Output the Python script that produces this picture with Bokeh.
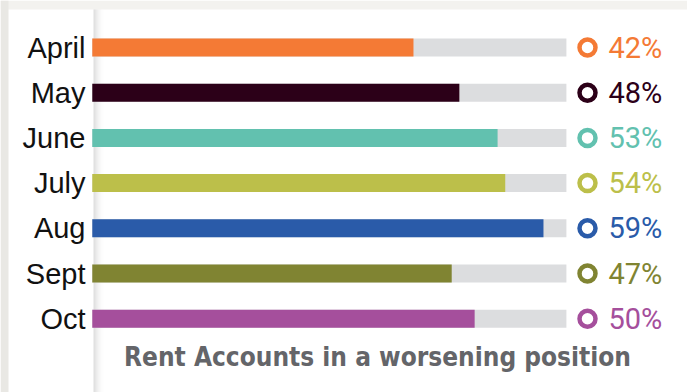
from bokeh.plotting import figure
from bokeh.models import Range1d, ColumnDataSource
from bokeh.core.properties import value
from bokeh.embed import file_html
from bokeh.resources import INLINE

# ---- data ----
months = ["April", "May", "June", "July", "Aug", "Sept", "Oct"]
values = [42, 48, 53, 54, 59, 47, 50]
colors = ["#f47a35", "#2c0018", "#62c1af", "#bcbf4a", "#2a5ba9", "#808432", "#a54f9c"]
track_max = 62
title_text = "Rent Accounts in a worsening position"

W, H = 687, 392
# pixel mapping helpers (layout only)
PX0, PXU = 91.8, 7.647      # x pixel of 0 %, px per %
PY0, PYU = 47.0, 45.2       # y pixel of first row, px per row


def xd(px):
    return (px - PX0) / PXU


def yd(py):
    return (py - PY0) / PYU


p = figure(width=W, height=H, output_backend="svg", toolbar_location=None,
           x_range=Range1d(xd(0), xd(W)), y_range=Range1d(yd(H), yd(0)),
           min_border=0, min_border_left=0, min_border_right=0,
           min_border_top=0, min_border_bottom=0)
p.axis.visible = False
p.grid.visible = False
p.outline_line_color = None
p.background_fill_color = "white"
p.border_fill_color = "white"

# page background strips
p.quad(left=[xd(0)], right=[xd(W)], top=[yd(0)], bottom=[yd(9)],
       fill_color="#f3f2ef", line_color=None)
p.quad(left=[xd(0)], right=[xd(8)], top=[yd(0)], bottom=[yd(H)],
       fill_color="#e9e8e4", line_color=None)

# soft vertical shadow at left of bars
alphas = [0.13, 0.11, 0.09, 0.07, 0.055, 0.04, 0.03, 0.02, 0.012, 0.006]
for k, a in enumerate(alphas):
    p.quad(left=[xd(93 + k)], right=[xd(94 + k)], top=[yd(9)], bottom=[yd(H)],
           fill_color="black", fill_alpha=a, line_color=None)

rows = list(range(len(months)))
src = ColumnDataSource(dict(
    y=rows, month=months, val=values, color=colors,
    track=[track_max] * len(months),
    label=[f"{v}%" for v in values],
    cx=[xd(587)] * len(months),
    tx=[xd(608)] * len(months),
    mx=[xd(85)] * len(months),
))

bh = 18 / PYU
# grey tracks
p.hbar(y="y", left=0, right="track", height=bh, fill_color="#dcdddf",
       line_color=None, source=src)
# value bars
p.hbar(y="y", left=0, right="val", height=bh, fill_color="color",
       line_color=None, source=src)

# ring markers
p.scatter(x="cx", y="y", size=16, marker="circle", fill_color="white",
          line_color="color", line_width=4.5, source=src)

# percentage labels
p.text(x="tx", y="y", text="label", text_color="color",
       text_font=value("Roboto"), text_font_size="29px",
       text_align="left", text_baseline="middle", source=src)

# month labels
p.text(x="mx", y="y", text="month", text_color="#111111",
       text_font=value("Liberation Sans"), text_font_size="29px",
       text_align="right", text_baseline="middle", source=src)

# title
p.text(x=[xd(377)], y=[yd(356)], text=[title_text], text_color="#646569",
       text_font=value("DejaVu Sans Condensed"), text_font_style="bold",
       text_font_size="26px", text_align="center", text_baseline="middle")

open("out.html", "w").write(file_html(p, INLINE))
